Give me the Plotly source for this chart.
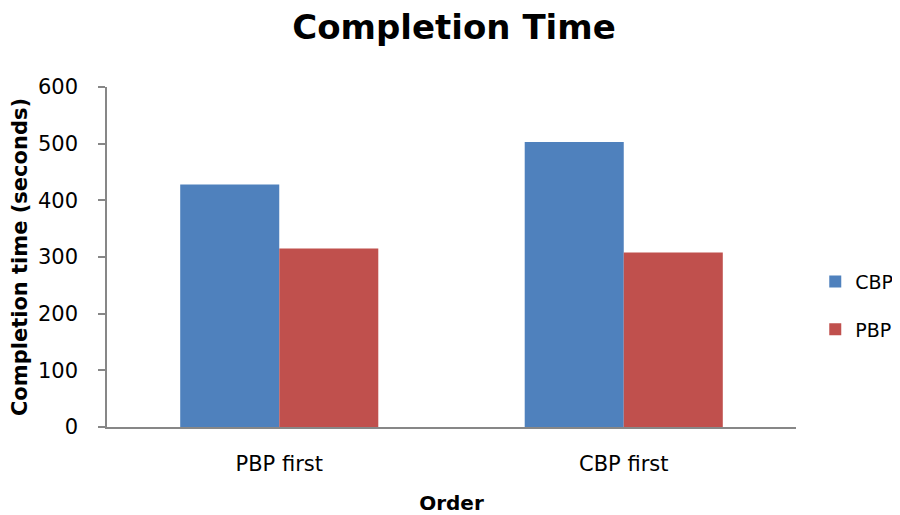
import plotly.graph_objects as go

categories = ["PBP first", "CBP first"]
cbp_values = [428, 503]
pbp_values = [315, 308]
y_ticks = [0, 100, 200, 300, 400, 500, 600]

FONT = "DejaVu Sans"
FIG_W, FIG_H = 892, 507  # page body adds an 8px offset

fig = go.Figure()
fig.add_trace(go.Bar(name="CBP", x=categories, y=cbp_values, legendgroup="a",
                     marker=dict(color="#4F81BD", line=dict(width=0))))
fig.add_trace(go.Bar(name="PBP", x=categories, y=pbp_values, legendgroup="b",
                     marker=dict(color="#C0504D", line=dict(width=0))))

fig.update_layout(
    width=FIG_W, height=FIG_H,
    margin=dict(l=99, r=104, t=79, b=88, autoexpand=False),
    paper_bgcolor="white", plot_bgcolor="white",
    barmode="group", bargap=0.425, bargroupgap=0,
    font=dict(family=FONT, color="#000000", size=20),
    title=dict(text="<b>Completion Time</b>", x=0.5, xanchor="center",
               y=0.962, yanchor="middle",
               font=dict(family=FONT, size=34, color="#000000")),
    legend=dict(xref="container", yref="container", x=0.905, y=0.413,
                xanchor="left", yanchor="middle",
                font=dict(family=FONT, size=19, color="#000000"),
                tracegroupgap=20, itemwidth=30, bgcolor="rgba(0,0,0,0)"),
    showlegend=True,
)
fig.update_xaxes(
    title=dict(text="<b>Order</b>", font=dict(family=FONT, size=20), standoff=32),
    automargin=False,
    showline=True, linecolor="#878787", linewidth=1.5,
    ticks="", tickfont=dict(family=FONT, size=21, color="#000000"),
    ticklabelstandoff=17,
    showgrid=False, zeroline=False,
)
fig.update_yaxes(
    title=dict(text="<b>Completion time (seconds)</b>", font=dict(family=FONT, size=21), standoff=9),
    automargin=False,
    range=[0, 600], tickvals=y_ticks,
    showline=True, linecolor="#878787", linewidth=1.5,
    ticks="outside", ticklen=7, tickcolor="#878787", tickwidth=1.5,
    tickfont=dict(family=FONT, size=21, color="#000000"),
    ticklabelstandoff=16,
    showgrid=False, zeroline=False,
)
fig.write_html("out.html")
